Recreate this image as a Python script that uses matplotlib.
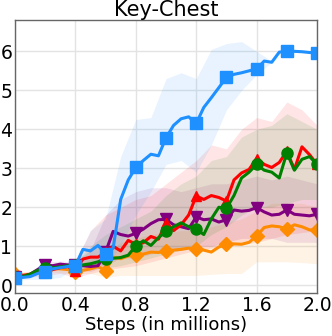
import matplotlib
matplotlib.use("Agg")
import matplotlib.pyplot as plt
import numpy as np

# steps in millions, line samples every 0.05
steps = np.round(np.arange(0, 2.0001, 0.05), 2)
# band samples every 0.1
band_steps = np.round(np.arange(0, 2.0001, 0.1), 2)

blue = [0.18, 0.2, 0.22, 0.3, 0.35, 0.42, 0.45, 0.48, 0.5, 0.92, 0.88, 1.02, 0.8, 0.95,
        2.2, 2.7, 3.02, 3.2, 3.36, 3.32, 3.78, 4.1, 4.27, 4.32, 4.15, 4.56, 4.81, 5.07,
        5.33, 5.41, 5.45, 5.5, 5.55, 5.75, 5.72, 5.98, 6.0, 6.0, 5.99, 5.97, 5.96]
blue_hi = [0.25, 0.35, 0.45, 0.55, 0.6, 1.4, 1.7, 3.3, 4.25, 4.3, 5.3, 5.45, 5.3, 6.05,
           6.2, 6.25, 6.0, 5.75, 6.0, 5.99, 5.96]
blue_lo = [0.12, 0.15, 0.15, 0.2, 0.45, 0.6, 0.5, 1.0, 1.8, 2.4, 3.1, 3.2, 2.9, 3.6,
           4.5, 5.0, 5.4, 5.72, 6.0, 5.99, 5.96]

red = [0.24, 0.25, 0.27, 0.35, 0.38, 0.4, 0.45, 0.48, 0.37, 0.67, 0.72, 0.72, 0.84, 1.0,
       0.88, 1.15, 1.05, 1.09, 1.25, 1.18, 1.6, 1.4, 1.55, 1.8, 2.29, 2.2, 2.3, 2.25,
       2.16, 2.7, 2.88, 2.97, 3.25, 3.1, 3.02, 3.15, 3.44, 2.97, 3.55, 3.35, 3.1]
red_hi = [0.3, 0.35, 0.45, 0.55, 0.6, 1.4, 1.8, 2.0, 2.2, 2.3, 2.6, 2.9, 3.2, 3.6,
          3.5, 4.0, 4.3, 4.2, 4.7, 4.5, 4.1]
red_lo = [0.18, 0.2, 0.25, 0.3, 0.2, 0.3, 0.4, 0.45, 0.5, 0.6, 0.7, 0.8, 0.9, 0.95,
          1.0, 1.05, 1.1, 1.2, 1.3, 1.35, 1.4]

green = [0.2, 0.22, 0.28, 0.38, 0.43, 0.45, 0.47, 0.5, 0.51, 0.52, 0.55, 0.6, 0.68, 0.69,
         0.71, 0.77, 1.01, 1.14, 1.02, 1.22, 1.38, 1.5, 1.6, 1.5, 1.44, 1.3, 1.7, 2.0,
         1.97, 2.3, 2.75, 2.9, 3.1, 2.95, 2.9, 2.75, 3.4, 2.95, 3.23, 3.3, 3.1]
green_hi = [0.25, 0.32, 0.5, 0.55, 0.6, 1.0, 1.3, 1.5, 1.7, 1.9, 2.3, 2.6, 2.8, 3.2,
            3.3, 3.8, 4.0, 4.1, 4.4, 4.2, 4.0]
green_lo = [0.15, 0.22, 0.38, 0.45, 0.45, 0.4, 0.45, 0.5, 0.6, 0.7, 0.8, 0.9, 1.0, 1.3,
            1.5, 1.8, 2.0, 2.0, 2.1, 2.2, 2.2]

purple = [0.2, 0.22, 0.28, 0.4, 0.52, 0.5, 0.54, 0.52, 0.52, 0.5, 0.48, 0.5, 0.85, 1.38,
          1.3, 1.26, 1.33, 1.44, 1.58, 1.68, 1.69, 1.55, 1.5, 1.45, 1.75, 1.68, 1.7,
          1.62, 1.68, 1.93, 1.9, 1.92, 1.99, 1.88, 1.8, 1.82, 1.93, 1.82, 1.8, 1.78, 1.82]
purple_hi = [0.25, 0.35, 0.6, 0.62, 0.6, 0.9, 1.8, 2.2, 2.4, 2.5, 2.5, 2.4, 2.5, 2.6,
             2.6, 2.7, 2.8, 2.7, 2.8, 2.7, 2.6]
purple_lo = [0.15, 0.2, 0.45, 0.45, 0.4, 0.35, 0.5, 0.7, 0.7, 0.8, 0.9, 0.9, 1.0, 1.0,
             1.1, 1.2, 1.2, 1.2, 1.1, 1.1, 1.1]

orange = [0.3, 0.25, 0.28, 0.32, 0.4, 0.42, 0.42, 0.4, 0.35, 0.38, 0.42, 0.48, 0.37, 0.72,
          0.68, 0.75, 0.78, 0.8, 0.85, 0.84, 0.88, 0.9, 0.92, 0.95, 0.92, 0.9, 0.85,
          0.98, 1.05, 1.06, 1.05, 1.1, 1.26, 1.48, 1.52, 1.5, 1.44, 1.55, 1.5, 1.42, 1.41]
orange_hi = [0.35, 0.35, 0.45, 0.5, 0.5, 0.7, 0.8, 1.1, 1.2, 1.3, 1.35, 1.4, 1.4, 1.5,
             1.6, 1.7, 1.9, 2.1, 2.1, 2.1, 2.0]
orange_lo = [0.25, 0.22, 0.35, 0.32, 0.3, 0.3, 0.2, 0.25, 0.25, 0.25, 0.25, 0.25, 0.25,
             0.28, 0.3, 0.3, 0.6, 0.6, 0.6, 0.58, 0.55]

series = [
    (orange, orange_lo, orange_hi, "darkorange", "D", 7),
    (purple, purple_lo, purple_hi, "purple", "v", 8),
    (red, red_lo, red_hi, "red", "^", 7),
    (green, green_lo, green_hi, "green", "o", 8),
    (blue, blue_lo, blue_hi, "dodgerblue", "s", 8),
]

fig = plt.figure(figsize=(3.32, 3.36), dpi=100)
ax = fig.add_axes([0.045, 0.128, 0.91, 0.812])

for vals, lo, hi, col, mk, ms in series:
    ax.fill_between(band_steps, lo, hi, color=col, alpha=0.1, lw=0)
for vals, lo, hi, col, mk, ms in series:
    ax.plot(steps, vals, color=col, lw=2.2, marker=mk, markersize=ms, markevery=4)

ax.set_xlim(0, 2.0)
ax.set_ylim(-0.2, 6.8)
ax.set_xticks([0.0, 0.4, 0.8, 1.2, 1.6, 2.0])
ax.set_xticklabels(["0.0", "0.4", "0.8", "1.2", "1.6", "2.0"])
ax.set_yticks([0, 1, 2, 3, 4, 5, 6])
ax.tick_params(length=0, labelsize=13.5, pad=2)
ax.grid(True, color="#e3e3e3", lw=1)
ax.set_axisbelow(True)
for s in ax.spines.values():
    s.set_color("#666666")
    s.set_linewidth(1)
ax.set_title("Key-Chest", fontsize=15, pad=1)
ax.set_xlabel("Steps (in millions)", fontsize=13, labelpad=1)

fig.savefig("out.png", dpi=100)
